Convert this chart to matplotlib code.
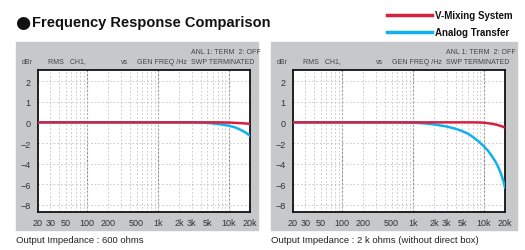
import numpy as np
import matplotlib
matplotlib.use("Agg")
import matplotlib.pyplot as plt
from matplotlib.patches import Rectangle

# ------------------------------
# Дані
# ------------------------------
freq_left = [20, 100, 1000, 3000, 5000, 7000, 10000, 12500, 15000, 17500, 20000]
vmix_left = [0, 0, 0, 0, 0, 0, -0.02, -0.05, -0.08, -0.11, -0.15]
analog_left = [0, 0, 0, 0, -0.05, -0.15, -0.32, -0.5, -0.75, -1.0, -1.3]

freq_right = [20, 100, 500, 1000, 1500, 2000, 3000, 4000, 5000, 6000, 7000, 8500,
              10000, 11500, 13000, 14500, 16000, 17500, 19000, 20000]
vmix_right = [0, 0, 0, 0, 0, 0, 0, 0, 0, 0, 0, -0.01,
              -0.03, -0.08, -0.14, -0.2, -0.27, -0.35, -0.44, -0.5]
analog_right = [0, 0, 0, -0.03, -0.1, -0.2, -0.4, -0.62, -0.85, -1.1, -1.4, -1.85,
                -2.3, -2.75, -3.25, -3.75, -4.3, -4.95, -5.7, -6.3]

x_ticks = [20, 30, 50, 100, 200, 500, 1000, 2000, 3000, 5000, 10000, 20000]
x_labels = ["20", "30", "50", "100", "200", "500", "1k", "2k", "3k", "5k", "10k", "20k"]
y_ticks = [2, 1, 0, -2, -4, -6, -8]
y_labels = ["2", "1", "0", "\u22122", "\u22124", "\u22126", "\u22128"]

captions = ["Output Impedance : 600 ohms",
            "Output Impedance : 2 k ohms (without direct box)"]

RED = "#d6203f"
BLUE = "#12b0ec"
PANEL = "#c7c8ca"

plt.rcParams["font.family"] = ["Liberation Sans", "DejaVu Sans"]


def fwd(y):
    y = np.asarray(y, dtype=float)
    return np.where(y >= 0, y, y / 2)


def inv(t):
    t = np.asarray(t, dtype=float)
    return np.where(t >= 0, t, t * 2)


fig = plt.figure(figsize=(5.25, 2.51), dpi=100)
fig.patch.set_facecolor("white")

# сірі підкладки панелей
for x0, w in [(16, 241.5), (271, 246)]:
    fig.patches.append(Rectangle((x0 / 525, 20.3 / 251), w / 525, 187.4 / 251,
                                 transform=fig.transFigure, color=PANEL, zorder=-10))

grid_f = [m * 10 ** e for e in range(1, 5) for m in range(1, 10) if 20 <= m * 10 ** e <= 20000]

panels = [
    (37.7, freq_left, vmix_left, analog_left, 16),
    (292.7, freq_right, vmix_right, analog_right, 271),
]

for i, (left, f, vm, an, px) in enumerate(panels):
    ax = fig.add_axes([left / 525, 38 / 251, 212.3 / 525, 142.3 / 251])
    ax.set_zorder(1)
    ax.set_xscale("log")
    ax.set_yscale("function", functions=(fwd, inv))
    ax.set_xlim(20, 20000)
    ax.set_ylim(-8.68, 2.55)

    ax.set_xticks(x_ticks)
    ax.set_xticklabels(x_labels)
    ax.set_xticks(grid_f, minor=True)
    ax.xaxis.set_minor_formatter(plt.NullFormatter())
    ax.xaxis.remove_overlapping_locs = False
    ax.set_yticks(y_ticks)
    ax.set_yticklabels(y_labels)
    ax.yaxis.set_minor_locator(plt.NullLocator())
    ax.tick_params(which="both", length=0, labelsize=6.5, colors="#333333")
    ax.tick_params(axis="x", pad=4)
    ax.tick_params(axis="y", pad=5)

    ax.grid(which="minor", axis="x", color="#c2c2c2", linestyle=(0, (2, 2.5)), linewidth=0.6)
    ax.grid(which="major", axis="y", color="#c2c2c2", linestyle=(0, (2, 2.5)), linewidth=0.6)
    for d in [100, 1000, 10000]:
        ax.axvline(d, color="#8a8a8a", linestyle=(0, (2, 1.5)), linewidth=0.8, zorder=1)

    ax.plot(f, an, color=BLUE, linewidth=1.8, zorder=3)
    ax.plot(f, vm, color=RED, linewidth=1.8, zorder=4)

    for s in ax.spines.values():
        s.set_linewidth(1.3)
        s.set_color("#111111")

    # підписи аналізатора над графіком
    tx = lambda x: (x + px - 16) / 525
    fig.text(tx(27), 1 - 62 / 251, "dBr", fontsize=5, color="#444444", ha="center", va="center")
    fig.text(tx(48), 1 - 62 / 251, "RMS   CH1,", fontsize=5, color="#444444", va="center")
    fig.text(tx(121), 1 - 62 / 251, "vs", fontsize=5, color="#444444", va="center")
    fig.text(tx(137), 1 - 62 / 251, "GEN FREQ /Hz", fontsize=5, color="#444444", va="center")
    fig.text(tx(191), 1 - 52 / 251, "ANL 1: TERM  2: OFF", fontsize=5, color="#444444", va="center")
    fig.text(tx(191), 1 - 62 / 251, "SWP TERMINATED", fontsize=5, color="#444444", va="center")

    fig.text(px / 525, 1 - 241 / 251, captions[i], fontsize=6.8, color="#222222", va="center")

# заголовок
fig.text(15 / 525, 1 - 23 / 251, "\u25cf", fontsize=12.5, color="#111111", va="center",
         family=["DejaVu Sans"])
fig.text(32 / 525, 1 - 23 / 251, "Frequency Response Comparison", fontsize=10.5,
         fontweight="bold", color="#111111", va="center")

# легенда
fig.lines.append(plt.Line2D([387 / 525, 432 / 525], [1 - 16 / 251, 1 - 16 / 251],
                            transform=fig.transFigure, color=RED, linewidth=2.5))
fig.lines.append(plt.Line2D([387 / 525, 432 / 525], [1 - 33 / 251, 1 - 33 / 251],
                            transform=fig.transFigure, color=BLUE, linewidth=2.5))
fig.text(435 / 525, 1 - 16 / 251, "V-Mixing System", fontsize=7, fontweight="bold",
         color="#111111", va="center")
fig.text(435 / 525, 1 - 33 / 251, "Analog Transfer", fontsize=7, fontweight="bold",
         color="#111111", va="center")

fig.savefig("out.png", dpi=100)
